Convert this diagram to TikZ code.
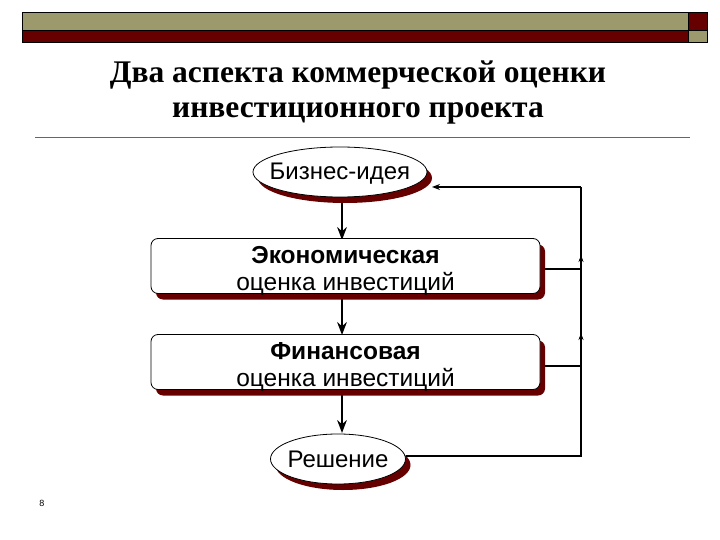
\documentclass[tikz,border=0pt]{standalone}
\usepackage{fontspec}
\setmainfont{Liberation Serif}
\setsansfont{Liberation Sans}
\usetikzlibrary{arrows.meta,positioning,calc,shapes.geometric,shadows,backgrounds}

\definecolor{olivebar}{HTML}{9C9A6C}
\definecolor{darkred}{HTML}{660000}

\begin{document}
\begin{tikzpicture}[
  x=1pt, y=-1pt,
  font=\sffamily,
  >=Stealth,
  redshadow/.style={
    drop shadow={shadow xshift=5pt, shadow yshift=-6pt, fill=darkred, opacity=1}
  },
  idea/.style={
    ellipse,
    draw=black,
    thick,
    fill=white,
    inner xsep=-25pt,
    inner ysep=0pt,
    text height=18pt,
    text depth=2pt,
    minimum height=50pt,
    font=\sffamily\fontsize{24}{27}\selectfont,
    redshadow
  },
  stage/.style={
    rectangle,
    draw=black,
    thick,
    rounded corners=7pt,
    fill=white,
    minimum width=389pt,
    minimum height=55pt,
    inner sep=0pt,
    redshadow
  },
  stagetext/.style={
    align=center,
    yshift=-5pt,
    font=\sffamily\fontsize{24.5}{28}\selectfont
  },
  flow/.style={->, line width=2.2pt, draw=black},
  feed/.style={line width=1.4pt, draw=black},
  tip/.style={-{Stealth[length=7pt,width=5pt]}, line width=0.8pt, draw=black}
]

\useasboundingbox (0,0) rectangle (720,540);

% header bar
\draw[thin, fill=olivebar] (22,12) rectangle (688,30);
\draw[thin, fill=darkred] (22,30) rectangle (688,42);
\draw[thin, fill=darkred] (688,12) rectangle (707,30);
\draw[thin, fill=olivebar] (688,30) rectangle (707,42);

\node[font=\bfseries\fontsize{31.5}{35}\selectfont, align=center] (title) at (358,93)
  {Два аспекта коммерческой оценки\\инвестиционного проекта};
\draw[black!60, line width=0.6pt] (35,137) -- (690,137);

\node[idea, minimum width=174pt] (idea) at (340,172) {Бизнес-идея};
\node[stage, label={[stagetext]center:\textbf{Экономическая}\\[-1pt]оценка инвестиций}] (eco) at (345.5,266) {};
\node[stage, label={[stagetext]center:\textbf{Финансовая}\\[-1pt]оценка инвестиций}] (fin) at (345.5,362) {};
\node[idea, minimum width=135pt] (dec) at (338,459) {Решение};

\node[font=\sffamily\fontsize{9}{10}\selectfont] (page) at (42,503) {8};

\coordinate (fbbot) at (581,456);
\coordinate (fbtop) at (581,187);
\coordinate (ideain) at (432,187);
\coordinate (decout) at (406,456);
\coordinate (ecoout) at (545,269);
\coordinate (finout) at (545,366);
\coordinate (fbA) at (581,255);
\coordinate (fbB) at (581,333);

\begin{scope}[on background layer]
\draw[flow] (342,197) -- (342,240);
\draw[flow] (342,293) -- (342,335);
\draw[flow] (342,390) -- (342,433);
\end{scope}

\draw[feed] (decout) -- (fbbot) -- (fbtop);
\draw[feed, -{Stealth[length=8pt,width=6pt]}] (fbtop) -- (ideain);
\draw[feed] (ecoout) -- (ecoout -| fbbot);
\draw[feed] (finout) -- (finout -| fbbot);
\draw[tip] (fbbot) -- (fbB);
\draw[tip] (fbbot) -- (fbA);

\end{tikzpicture}
\end{document}
